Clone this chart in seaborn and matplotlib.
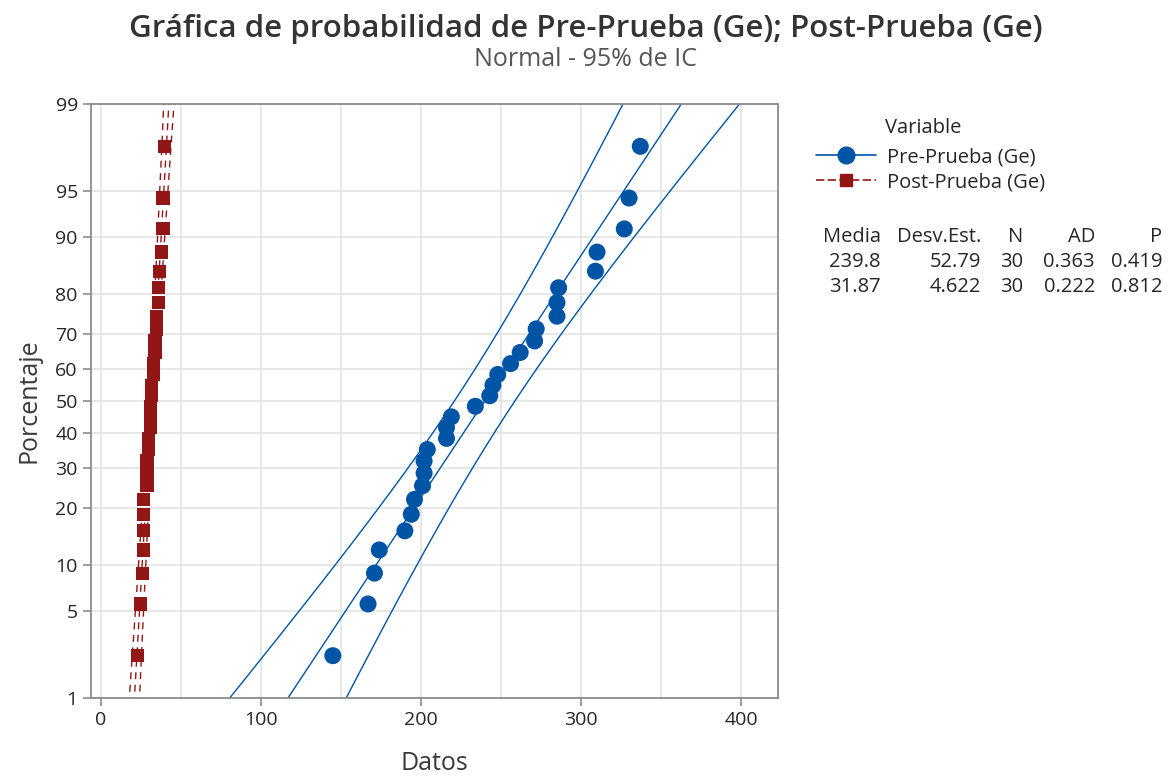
import numpy as np
import pandas as pd
import matplotlib
matplotlib.use("Agg")
import matplotlib.pyplot as plt
from matplotlib.lines import Line2D
import seaborn as sns
from statistics import NormalDist

# Data (sorted values)
pre_values = [145, 167, 171, 174, 190, 194, 196, 201, 202, 202,
              204, 216, 216, 219, 234, 243, 245, 248, 256, 262,
              271, 272, 285, 285, 286, 309, 310, 327, 330, 337]
post_values = [23, 25, 26, 27, 27, 27, 27, 29, 29, 29,
               30, 30, 31, 31, 31, 32, 32, 33, 33, 34,
               34, 35, 35, 37, 36, 36, 38, 39, 39, 40]

series_names = ["Pre-Prueba (Ge)", "Post-Prueba (Ge)"]
colors = ["#0054a6", "#931616"]
media = [239.8, 31.87]
desv_est = [52.79, 4.622]
n_obs = [30, 30]
ad_stat = [0.363, 0.222]
p_value = [0.419, 0.812]

y_ticks = [1, 5, 10, 20, 30, 40, 50, 60, 70, 80, 90, 95, 99]
x_ticks = [0, 100, 200, 300, 400]

nd = NormalDist()
_ppf = np.vectorize(nd.inv_cdf, otypes=[float])
_cdf = np.vectorize(nd.cdf, otypes=[float])


def pct_to_z(p):
    p = np.clip(np.asarray(p, dtype=float) / 100.0, 1e-9, 1 - 1e-9)
    return _ppf(p)


def z_to_pct(z):
    return _cdf(np.asarray(z, dtype=float)) * 100.0


# median ranks (Benard) for plotting positions
rows = []
for name, vals in zip(series_names, [pre_values, post_values]):
    n = len(vals)
    for i, v in enumerate(sorted(vals), start=1):
        rows.append({"variable": name, "value": v, "pct": (i - 0.3) / (n + 0.4) * 100})
df = pd.DataFrame(rows)

sns.set_theme(style="white")
plt.rcParams["font.family"] = ["Open Sans", "DejaVu Sans"]
text_col = "#262626"

fig = plt.figure(figsize=(11.72, 7.78), dpi=100)
ax = fig.add_axes([91 / 1172, 1 - 698 / 778, (778 - 91) / 1172, (698 - 104) / 778])
ax.set_yscale("function", functions=(pct_to_z, z_to_pct))

# fitted line and 95% confidence bands
z_grid = np.linspace(-3.2, 3.2, 400)
pct_grid = z_to_pct(z_grid)
line_styles = ["-", (0, (5, 4))]
for k, name in enumerate(series_names):
    mu, sd, n = media[k], desv_est[k], n_obs[k]
    xp = mu + z_grid * sd
    se = sd * np.sqrt(1 / n + z_grid ** 2 / (2 * n))
    for xs in (xp - 1.96 * se, xp, xp + 1.96 * se):
        sns.lineplot(x=xs, y=pct_grid, sort=False, estimator=None, ax=ax,
                     color=colors[k], lw=1.0, linestyle=line_styles[k])

sns.scatterplot(data=df[df.variable == series_names[0]], x="value", y="pct",
                marker="o", s=150, color=colors[0], edgecolor="none", ax=ax, zorder=3)
sns.scatterplot(data=df[df.variable == series_names[1]], x="value", y="pct",
                marker="s", s=90, color=colors[1], edgecolor="none", ax=ax, zorder=3)

ax.set_xlim(-6, 423)
ax.set_ylim(1, 99)
ax.set_yticks(y_ticks)
ax.set_yticklabels([str(t) for t in y_ticks])
ax.yaxis.set_minor_locator(matplotlib.ticker.NullLocator())
ax.set_xticks(x_ticks)
ax.set_xticks(np.arange(50, 420, 100), minor=True)
ax.grid(True, which="both", color="#e3e3e3", lw=1.2)
ax.set_axisbelow(True)
for sp in ax.spines.values():
    sp.set_color("#8c8c8c")
    sp.set_linewidth(1.3)
ax.tick_params(axis="both", which="major", length=6, width=1.2, color="#8c8c8c",
               labelsize=14, labelcolor=text_col, direction="out", bottom=True, left=True)
ax.tick_params(axis="x", which="minor", length=0)
ax.set_xlabel("Datos", fontsize=18, color="#3a3a3a", labelpad=16)
ax.set_ylabel("Porcentaje", fontsize=18, color="#3a3a3a", labelpad=10)

fig.text(0.5, 1 - 29 / 778, "Gráfica de probabilidad de Pre-Prueba (Ge); Post-Prueba (Ge)",
         ha="center", va="center", fontsize=22.5, fontweight="semibold", color="#333333")
fig.text(0.5, 1 - 59 / 778, "Normal - 95% de IC", ha="center", va="center",
         fontsize=18, color="#555555")

# legend
handles = [Line2D([0], [0], color=colors[0], lw=1.2, marker="o", markersize=12),
           Line2D([0], [0], color=colors[1], lw=1.2, linestyle=(0, (5, 2)),
                  marker="s", markersize=9)]
fig.text(885 / 1172, 1 - 128 / 778, "Variable", ha="left", va="center", fontsize=14.5, color=text_col)
fig.legend(handles, series_names, loc="upper left", bbox_to_anchor=(806 / 1172, 1 - 137 / 778),
           frameon=False, fontsize=14.5, handlelength=3.0, handletextpad=0.5,
           labelspacing=0.25, borderpad=0, labelcolor=text_col)

# stats table
cols_x = [881, 981, 1023, 1095, 1162]
headers = ["Media", "Desv.Est.", "N", "AD", "P"]
for cx, h in zip(cols_x, headers):
    fig.text(cx / 1172, 1 - 237 / 778, h, ha="right", va="center", fontsize=14.5, color=text_col)
for r in range(2):
    vals = [f"{media[r]:g}", f"{desv_est[r]:g}", str(n_obs[r]),
            f"{ad_stat[r]:.3f}", f"{p_value[r]:.3f}"]
    for cx, v in zip(cols_x, vals):
        fig.text(cx / 1172, 1 - (262 + 25 * r) / 778, v, ha="right", va="center",
                 fontsize=14.5, color=text_col)

fig.savefig("out.png", dpi=100)
